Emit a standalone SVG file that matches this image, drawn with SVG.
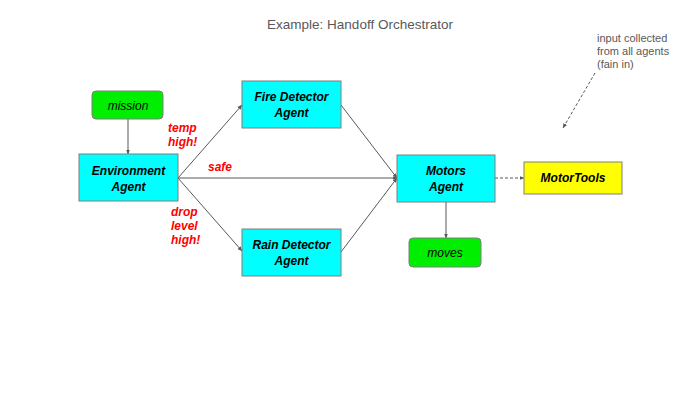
<svg xmlns="http://www.w3.org/2000/svg" width="700" height="394" viewBox="0 0 700 394">
<defs>
<marker id="ah" viewBox="0 0 10 10" refX="9" refY="5" markerWidth="5" markerHeight="5" orient="auto"><path d="M0,1 L10,5 L0,9 z" fill="#595959"/></marker>
<style>
.box{fill:#00ffff;stroke:#7f7f7f;stroke-width:1}
.grn{fill:#00ee00;stroke:#7f7f7f;stroke-width:1}
.yel{fill:#ffff00;stroke:#7f7f7f;stroke-width:1}
.t{font-family:"Liberation Sans",Arial,sans-serif;font-size:12px;font-weight:bold;font-style:italic;fill:#000;text-anchor:middle}
.ti{font-family:"Liberation Sans",Arial,sans-serif;font-size:12px;font-style:italic;fill:#000;text-anchor:middle}
.lbl{font-family:"Liberation Sans",Arial,sans-serif;font-size:12px;font-weight:bold;font-style:italic;fill:#ff0000}
.c{stroke:#595959;stroke-width:1;fill:none;marker-end:url(#ah)}
.d{stroke:#595959;stroke-width:1;fill:none;stroke-dasharray:3,2;marker-end:url(#ah)}
.note{font-family:"Liberation Sans",Arial,sans-serif;font-size:11px;fill:#595959}
</style>
</defs>
<rect width="700" height="394" fill="#fff"/>
<text x="360" y="29" style="font-family:'Liberation Sans',Arial,sans-serif;font-size:13.5px;fill:#595959;text-anchor:middle">Example: Handoff Orchestrator</text>
<g id="connectors">
<line class="c" x1="128" y1="119" x2="128" y2="154"/>
<line class="c" x1="178" y1="178" x2="242" y2="105"/>
<line class="c" x1="178" y1="178" x2="242" y2="251"/>
<line class="c" x1="178" y1="178" x2="397" y2="178"/>
<line class="c" x1="341" y1="105" x2="397" y2="178"/>
<line class="c" x1="341" y1="252" x2="397" y2="178"/>
<line class="c" x1="446" y1="202" x2="446" y2="238"/>
<line class="d" x1="495" y1="178" x2="524" y2="178"/>
<line class="d" x1="595" y1="73" x2="563" y2="128"/>
</g>
<g id="labels">
<text class="lbl" x="168" y="132">temp</text>
<text class="lbl" x="168" y="146">high!</text>
<text class="lbl" x="208" y="171">safe</text>
<text class="lbl" x="171" y="216">drop</text>
<text class="lbl" x="171" y="230">level</text>
<text class="lbl" x="171" y="244">high!</text>
</g>
<g id="note">
<text class="note" x="597" y="42">input collected</text>
<text class="note" x="597" y="55">from all agents</text>
<text class="note" x="597" y="68">(fain in)</text>
</g>
<g id="mission"><rect class="grn" x="92" y="91" width="71" height="28" rx="4"/><text class="ti" x="128" y="110">mission</text></g>
<g id="environment"><rect class="box" x="79" y="154" width="99" height="47"/><text class="t" x="128.5" y="175">Environment</text><text class="t" x="128.5" y="191">Agent</text></g>
<g id="fire"><rect class="box" x="242" y="81" width="99" height="47"/><text class="t" x="291.5" y="101">Fire Detector</text><text class="t" x="291.5" y="117">Agent</text></g>
<g id="rain"><rect class="box" x="242" y="229" width="99" height="47"/><text class="t" x="291.5" y="249">Rain Detector</text><text class="t" x="291.5" y="265">Agent</text></g>
<g id="motors"><rect class="box" x="397" y="155" width="98" height="47"/><text class="t" x="446" y="175">Motors</text><text class="t" x="446" y="191">Agent</text></g>
<g id="motortools"><rect class="yel" x="524" y="162" width="98" height="32"/><text class="t" x="573" y="182">MotorTools</text></g>
<g id="moves"><rect class="grn" x="409" y="238" width="72" height="29" rx="4"/><text class="ti" x="445" y="257">moves</text></g>
</svg>
